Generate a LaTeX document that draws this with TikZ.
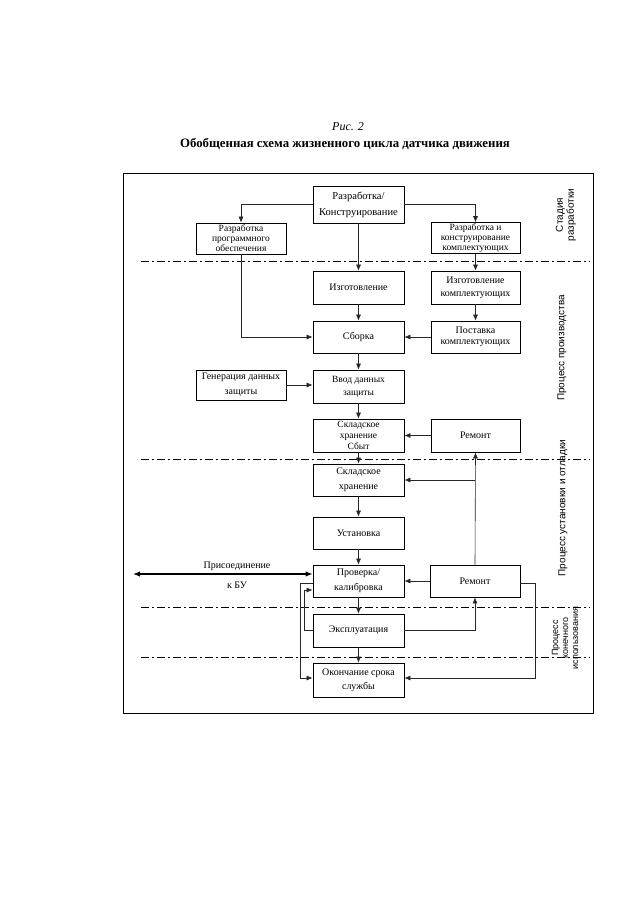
\documentclass[tikz,border=0pt]{standalone}
\usepackage{fontspec}
\setmainfont{Liberation Serif}
\newfontfamily\lsans{Liberation Sans}
\usetikzlibrary{arrows.meta,calc}
\begin{document}
\begin{tikzpicture}[x=1pt,y=-1pt,
  bx/.style={draw=black,line width=0.8pt,minimum width=91pt,align=center,inner sep=1pt},
  sbx/.style={bx,minimum width=89pt},
  arr/.style={draw=black!85,line width=0.6pt,-{Latex[length=6pt,width=5pt]}},
  dd/.style={draw=black,line width=0.8pt,dash pattern=on 8pt off 3pt on 2pt off 3pt},
  lab/.style={font=\lsans\fontsize{10}{11}\selectfont,rotate=90,align=center,inner sep=0pt}]
\useasboundingbox (0,0) rectangle (640,905);
% title
\node (ris) at (348,127) {\fontsize{12}{14}\selectfont\itshape Рис. 2};
\node (ttl) at (345,144) {\fontsize{12.8}{14}\selectfont\bfseries Обобщенная схема жизненного цикла датчика движения};
% frame
\draw[line width=1pt] (123,173.5) rectangle (593,713);
% dash-dot separators
\draw[dd] (141,261) -- (590,261);
\draw[dd] (141,459) -- (590,459);
\draw[dd] (141,607) -- (590,607);
\draw[dd] (141,657) -- (590,657);
% boxes
\node[bx,minimum height=37pt,font=\fontsize{10.5}{16}\selectfont] (top) at (358.5,204.5) {Разработка/\\Конструирование};
\node[bx,minimum width=90pt,minimum height=31pt,font=\fontsize{9.5}{10}\selectfont] (prog) at (241,238.5) {Разработка\\программного\\обеспечения};
\node[sbx,minimum height=30pt,font=\fontsize{9.5}{10}\selectfont] (razrK) at (475.5,238) {Разработка и\\конструирование\\комплектующих};
\node[bx,minimum height=33pt,font=\fontsize{10}{13}\selectfont] (izg) at (358.5,287.5) {Изготовление};
\node[sbx,minimum height=33pt,font=\fontsize{10}{13}\selectfont] (izgK) at (475.5,287.5) {Изготовление\\комплектующих};
\node[bx,minimum height=32pt,font=\fontsize{10}{13}\selectfont] (sborka) at (358.5,337) {Сборка};
\node[sbx,minimum height=32pt,font=\fontsize{10}{11.5}\selectfont] (postK) at (475.5,337) {Поставка\\комплектующих};
\node[bx,minimum width=90pt,minimum height=30pt,font=\fontsize{10}{15}\selectfont] (gen) at (241,385) {Генерация данных\\защиты};
\node[bx,minimum height=33pt,font=\fontsize{9.5}{13}\selectfont] (vvod) at (358.5,386.5) {Ввод данных\\защиты};
\node[bx,minimum height=33pt,font=\fontsize{9.5}{11}\selectfont] (sklad1) at (358.5,435.5) {Складское\\хранение\\Сбыт};
\node[sbx,minimum height=33pt,font=\fontsize{10}{13}\selectfont] (rem1) at (475.5,435.5) {Ремонт};
\node[bx,minimum height=32pt,font=\fontsize{10}{15}\selectfont] (sklad2) at (358.5,480) {Складское\\хранение};
\node[bx,minimum height=32pt,font=\fontsize{10}{13}\selectfont] (ust) at (358.5,533) {Установка};
\node[bx,minimum height=32pt,font=\fontsize{10}{15}\selectfont] (prov) at (358.5,581) {Проверка/\\калибровка};
\node[bx,minimum width=90pt,minimum height=32pt,font=\fontsize{10}{13}\selectfont] (rem2) at (475,581) {Ремонт};
\node[bx,minimum height=33pt,font=\fontsize{10}{13}\selectfont] (expl) at (358.5,630.5) {Эксплуатация};
\node[bx,minimum height=34pt,font=\fontsize{10}{14}\selectfont] (okon) at (358.5,680) {Окончание срока\\службы};
% side labels
\node[lab] (l1) at (566,215) {Стадия\\разработки};
\node[lab] (l2) at (562,348) {Процесс производства};
\node[lab] (l3) at (563,508) {Процесс установки и отладки};
\node[lab,font=\lsans\fontsize{9}{10}\selectfont] (l4) at (565,638) {Процесс\\конечного\\использования};
% connectors
\draw[arr] (top.west) -| (prog.north);
\draw[arr] (top.east) -| (razrK.north);
\draw[arr] (top.south) -- (izg.north);
\draw[arr] (razrK.south) -- (izgK.north);
\draw[arr] (prog.south) |- (sborka.west);
\draw[arr] (izg.south) -- (sborka.north);
\draw[arr] (izgK.south) -- (postK.north);
\draw[arr] (postK.west) -- (sborka.east);
\draw[arr] (sborka.south) -- (vvod.north);
\draw[arr] (gen.east) -- (gen.east -| vvod.west);
\draw[arr] (vvod.south) -- (sklad1.north);
\draw[arr] (rem1.west) -- (sklad1.east);
\draw[arr] (sklad1.south) -- (sklad2.north);
\draw[arr] (sklad2.south) -- (ust.north);
\draw[arr] (ust.south) -- (prov.north);
\draw[arr] (rem2.north) -- (rem1.south);
\coordinate (j1) at (rem2.north |- sklad2.east);
\draw[arr] (j1) -- (sklad2.east);
\draw[arr] (rem2.west) -- (prov.east);
\coordinate (bu) at (133,574);
\draw[line width=1.2pt,{Latex[length=7pt,width=5.5pt]}-{Latex[length=7pt,width=5.5pt]}] (bu) -- (bu -| prov.west);
\node[font=\fontsize{10}{12}\selectfont] (bu1) at (237,566) {Присоединение};
\node[font=\fontsize{10}{12}\selectfont] (bu2) at (237,585) {к БУ};
\draw[arr] (prov.south) -- (expl.north);
\draw[arr] (expl.east) -| (rem2.south);
\coordinate (c1) at (304,630.5);
\coordinate (c2) at (304,590);
\draw[arr] (expl.west) -- (c1) -- (c2) -- (c2 -| prov.west);
\coordinate (d0) at ($(prov.west)+(0,2)$);
\coordinate (d1) at (300,583);
\coordinate (d2) at (300,678);
\draw[arr] (d0) -- (d1) -- (d2) -- (d2 -| okon.west);
\draw[arr] (expl.south) -- (okon.north);
\coordinate (e0) at ($(rem2.east)+(0,2)$);
\coordinate (e1) at (535,583);
\coordinate (e2) at (535,678);
\draw[arr] (e0) -- (e1) -- (e2) -- (e2 -| okon.east);
\end{tikzpicture}
\end{document}
